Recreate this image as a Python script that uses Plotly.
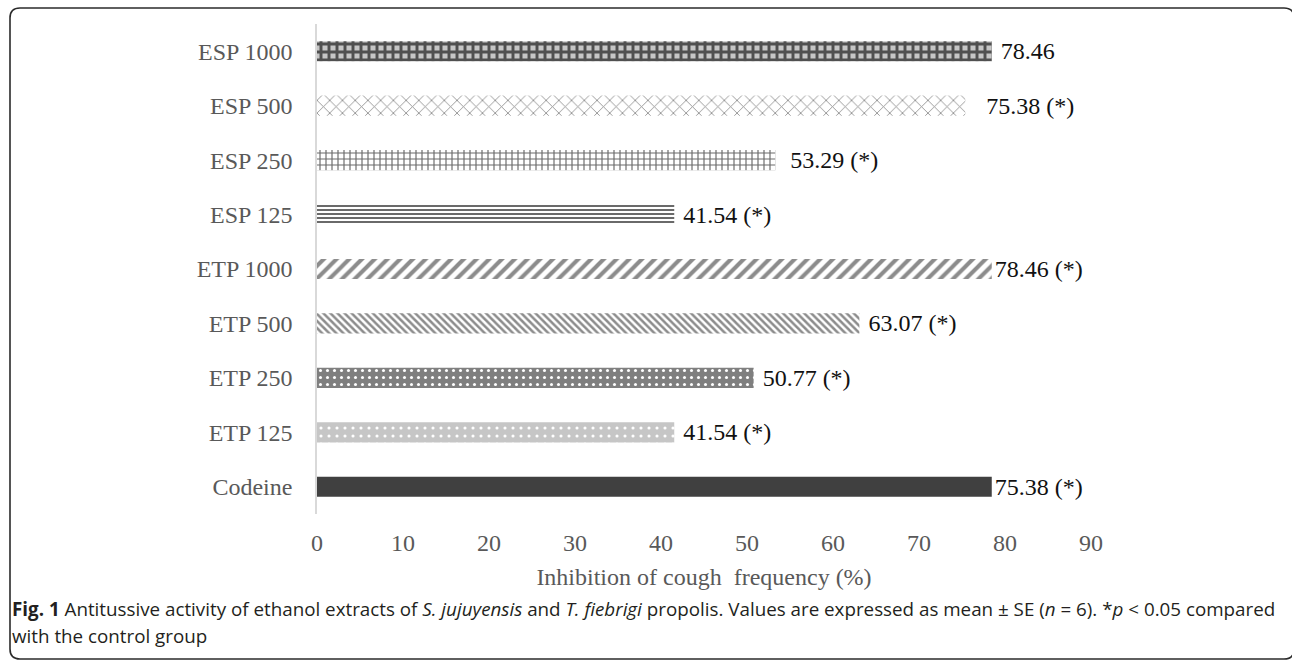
import plotly.graph_objects as go

# ---- data (top to bottom) ----
categories = ["ESP 1000", "ESP 500", "ESP 250", "ESP 125",
              "ETP 1000", "ETP 500", "ETP 250", "ETP 125", "Codeine"]
# bar lengths as drawn in the figure
inhibition = [78.46, 75.38, 53.29, 41.54, 78.46, 63.07, 50.77, 41.54, 78.46]
value_labels = ["78.46", "75.38 (*)", "53.29 (*)", "41.54 (*)", "78.46 (*)",
                "63.07 (*)", "50.77 (*)", "41.54 (*)", "75.38 (*)"]
x_ticks = [0, 10, 20, 30, 40, 50, 60, 70, 80, 90]

# ---- styles ----
pat_shape = ["+", "x", "+", "-", "/", "\\", ".", ".", ""]
pat_fg = ["#505050", "#8a8a8a", "#6a6a6a", "#6a6a6a", "#8c8c8c", "#8c8c8c",
          "#ffffff", "#ffffff", "#404040"]
pat_bg = ["#c6c6c6", "#ffffff", "#ffffff", "#ffffff", "#ffffff", "#ffffff",
          "#7f7f7f", "#c6c6c6", "#404040"]
pat_size = [8, 9, 6, 4, 9, 5, 7, 8, 8]
pat_sol = [0.6, 0.18, 0.35, 0.5, 0.45, 0.5, 0.15, 0.12, 0.3]
label_gap_spaces = [1, 3, 2, 1, 0, 1, 1, 1, 0]

W, H = 1292, 662
ML, MR, MT, MB = 317, 201, 24, 148
PW, PH = W - ML - MR, H - MT - MB


def px_x(px):
    return (px - ML) / PW


def px_y(py):
    return (H - MB - py) / PH


fig = go.Figure()
for i, cat in enumerate(categories):
    pattern = dict(shape=pat_shape[i], fgcolor=pat_fg[i], bgcolor=pat_bg[i],
                   size=pat_size[i], solidity=pat_sol[i], fillmode="replace")
    fig.add_trace(go.Bar(
        y=[cat], x=[inhibition[i]], orientation="h",
        text=["\u00a0" * label_gap_spaces[i] + value_labels[i]],
        textposition="outside", constraintext="none",
        cliponaxis=False,
        textfont=dict(family="Liberation Serif", size=24, color="#111111"),
        marker=dict(color=pat_bg[i] if pat_shape[i] else pat_fg[i],
                    line=dict(width=0), pattern=pattern),
        width=0.37,
        name=cat,
        hoverinfo="x+y",
    ))

# rounded frame
x0, x1, y0, y1, r = px_x(10), px_x(1294), px_y(8), px_y(659), 10
rx, ry = r / PW, r / PH
path = (f"M {x0 + rx} {y0} L {x1 - rx} {y0} Q {x1} {y0} {x1} {y0 - ry} "
        f"L {x1} {y1 + ry} Q {x1} {y1} {x1 - rx} {y1} "
        f"L {x0 + rx} {y1} Q {x0} {y1} {x0} {y1 + ry} "
        f"L {x0} {y0 - ry} Q {x0} {y0} {x0 + rx} {y0} Z")
fig.add_shape(type="path", path=path, xref="paper", yref="paper",
              line=dict(color="#2b2b2b", width=1.6), layer="above")

cap_font = dict(family="Open Sans", size=18.8, color="#231f20")
fig.add_annotation(
    x=px_x(10), y=px_y(609), xref="paper", yref="paper",
    xanchor="left", yanchor="middle", showarrow=False, font=cap_font,
    text=("<b>Fig. 1</b> Antitussive activity of ethanol extracts of "
          "<i>S. jujuyensis</i> and <i>T. fiebrigi</i> propolis. Values are "
          "expressed as mean ± SE (<i>n</i> = 6). *<i>p</i> &lt; 0.05 compared"))
fig.add_annotation(
    x=px_x(10), y=px_y(636), xref="paper", yref="paper",
    xanchor="left", yanchor="middle", showarrow=False, font=cap_font,
    text="with the control group")

fig.update_layout(
    width=W, height=H,
    margin=dict(l=ML, r=MR, t=MT, b=MB, pad=0),
    paper_bgcolor="white", plot_bgcolor="white",
    showlegend=False,
    barmode="overlay",
    xaxis=dict(
        range=[0, 90], tickvals=x_ticks, showgrid=False, zeroline=False,
        showline=False, ticks="", ticklabelstandoff=12,
        tickfont=dict(family="Liberation Serif", size=24, color="#595959"),
        title=dict(text="Inhibition of cough\u00a0 frequency (%)", standoff=13,
                   font=dict(family="Liberation Serif", size=24, color="#595959")),
    ),
    yaxis=dict(
        categoryorder="array", categoryarray=categories, autorange="reversed",
        showgrid=False, zeroline=False, showline=True, linecolor="#d9d9d9",
        linewidth=1.5, ticks="", ticklabelstandoff=18,
        tickfont=dict(family="Liberation Serif", size=24, color="#595959"),
    ),
)

fig.write_html("out.html")
